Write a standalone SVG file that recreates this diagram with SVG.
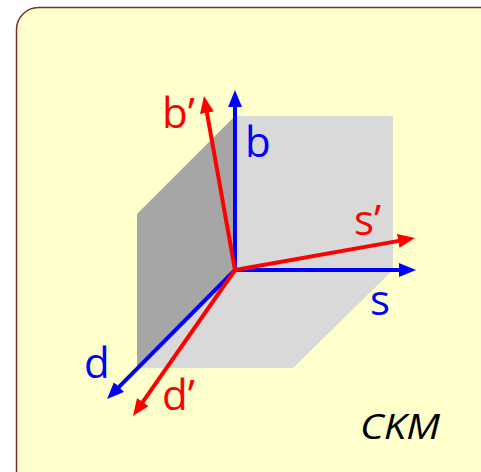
<svg xmlns="http://www.w3.org/2000/svg" width="481" height="472" viewBox="0 0 481 472">
<defs>
<style>
.ax{stroke-width:4;fill:none}
.blue{stroke:#0000ff}
.red{stroke:#ff0000}
.lbl{font-family:"Open Sans","Liberation Sans",sans-serif;font-size:42px}
</style>
<marker id="ab" viewBox="0 0 17 14" markerUnits="userSpaceOnUse" markerWidth="17" markerHeight="14" refX="2" refY="7" orient="auto"><path d="M0,0 L17,7 L0,14 z" fill="#0000ff"/></marker>
<marker id="ar" viewBox="0 0 17 14" markerUnits="userSpaceOnUse" markerWidth="17" markerHeight="14" refX="2" refY="7" orient="auto"><path d="M0,0 L17,7 L0,14 z" fill="#ff0000"/></marker>
</defs>
<rect x="16.5" y="7.5" width="490" height="490" rx="22" fill="#ffffcc" stroke="#7b2a36" stroke-width="1.5"/>
<g id="cube">
<polygon points="235,116 393,116 393,270 235,270" fill="#d9d9d9"/>
<polygon points="235,270 393,270 293,368 137,368" fill="#d9d9d9"/>
<polygon points="137,214 235,116 235,270 137,368" fill="#a6a6a6"/>
</g>
<g id="connectors">
<line class="ax blue" x1="235" y1="270" x2="235" y2="105" marker-end="url(#ab)"/>
<line class="ax blue" x1="235" y1="270" x2="401" y2="270" marker-end="url(#ab)"/>
<line class="ax blue" x1="235" y1="270" x2="117.6" y2="388.4" marker-end="url(#ab)"/>
<line class="ax red" x1="235" y1="270" x2="206.6" y2="110.8" marker-end="url(#ar)"/>
<line class="ax red" x1="235" y1="270" x2="400.2" y2="240.6" marker-end="url(#ar)"/>
<line class="ax red" x1="235" y1="270" x2="141.6" y2="403.7" marker-end="url(#ar)"/>
</g>
<g id="labels">
<text class="lbl" x="162" y="128" fill="#ff0000">b’</text>
<text class="lbl" x="245" y="157" fill="#0000ff">b</text>
<text class="lbl" x="354" y="235" fill="#ff0000">s’</text>
<text class="lbl" x="370" y="315" fill="#0000ff">s</text>
<text class="lbl" x="84" y="378" fill="#0000ff">d</text>
<text class="lbl" x="162" y="410" fill="#ff0000">d’</text>
<text x="360" y="439" font-family="'Open Sans','Liberation Sans',sans-serif" font-size="34" font-style="italic" fill="#000000" textLength="80" lengthAdjust="spacingAndGlyphs">CKM</text>
</g>
</svg>
